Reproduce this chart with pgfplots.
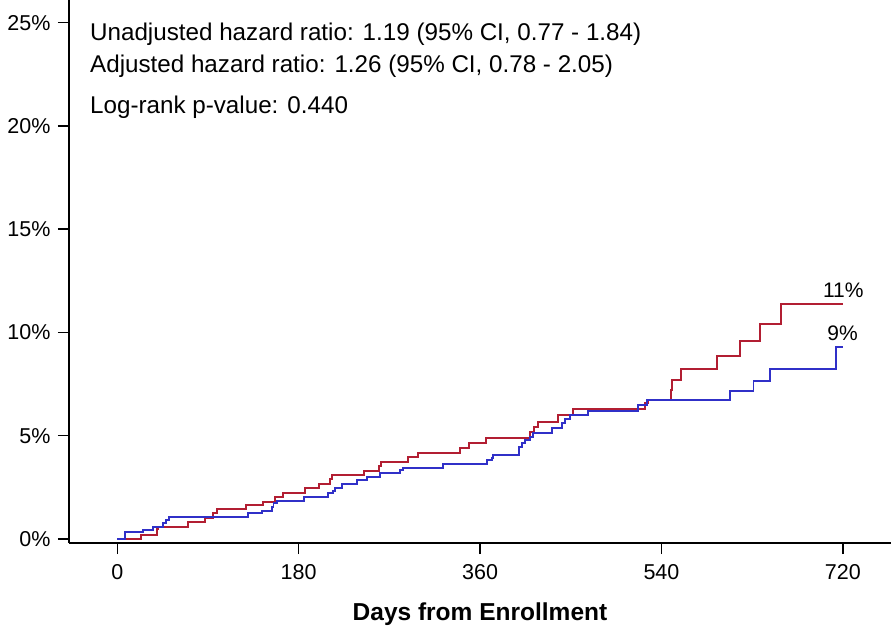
\documentclass[border=0pt]{standalone}
\usepackage{pgfplots}
\pgfplotsset{compat=1.18}
\usepackage{fontspec}
\setmainfont{Liberation Sans}
\definecolor{kmred}{RGB}{178,30,50}
\definecolor{kmblue}{RGB}{48,48,200}

\begin{document}
\begin{tikzpicture}
  \begin{axis}[
    name=ax,
    scale only axis,
    width=822bp, height=543bp,
    xmin=-47.9, xmax=767.8,
    ymin=-0.194, ymax=26.10,
    axis x line=bottom, axis y line=left,
    axis line style={-, line width=1.5bp},
    xtick={0,180,360,540,720},
    xticklabels={0,180,360,540,720},
    ytick={0,5,10,15,20,25},
    yticklabels={0\%,5\%,10\%,15\%,20\%,25\%},
    tick align=outside,
    major tick length=11bp,
    tick style={line width=1.5bp, black},
    ticklabel style={font=\fontsize{21.5bp}{25bp}\selectfont},
    xticklabel style={yshift=-7bp},
    yticklabel style={xshift=-4bp},
    clip=false,
  ]
    % red arm
    \addplot[const plot, kmred, line width=1.9bp] coordinates {
      (0,0) (23.2,0.18) (39.1,0.47) (40.4,0.60) (70.5,0.84) (87,1.03)
      (95.3,1.24) (98.6,1.44) (127.7,1.65) (144.9,1.81) (156.5,2.05)
      (164.8,2.24) (186.3,2.46) (200.5,2.66) (211.1,2.89) (212.8,3.10)
      (244.9,3.31) (260.1,3.54) (261.4,3.74) (288.8,3.99) (298.8,4.18)
      (340.1,4.39) (349.4,4.63) (366,4.91) (409.6,5.17) (413.9,5.44)
      (417.3,5.68) (437.7,6.00) (452.6,6.28) (523.8,6.57) (527,6.73)
      (549.3,7.22) (550.9,7.70) (559.2,8.22) (595,8.86) (618.1,9.59)
      (637.9,10.43) (658.5,11.37) (720,11.37)
    };
    % blue arm
    \addplot[const plot, kmblue, line width=1.9bp] coordinates {
      (0,0) (7.6,0.32) (25.2,0.44) (35.7,0.60) (45.1,0.79) (48.3,0.92)
      (51.6,1.08) (130,1.24) (143.3,1.37) (153.2,1.56) (155,1.73)
      (158.2,1.85) (185.3,2.05) (209.4,2.21) (214.4,2.32) (216.1,2.46)
      (222.7,2.66) (237.6,2.86) (247.5,3.02) (260.7,3.18) (280.6,3.34)
      (283.9,3.45) (323.6,3.62) (366.6,3.83) (371.6,3.91) (373.2,4.07)
      (399,4.44) (401.4,4.63) (404.7,4.79) (409.6,4.95) (412.9,5.12)
      (431.2,5.36) (441.1,5.60) (444.4,5.80) (449.3,6.00) (467.5,6.21)
      (517.1,6.49) (525.5,6.73) (608.1,7.18) (631.3,7.67) (647.8,8.23)
      (713.1,9.31) (720,9.31)
    };
    \node[anchor=base, font=\fontsize{21bp}{25bp}\selectfont] at (axis cs:720.5,11.70) {11\%};
    \node[anchor=base, font=\fontsize{21bp}{25bp}\selectfont] at (axis cs:719.7,9.60) {9\%};
    \node[anchor=base west, inner sep=0pt, font=\fontsize{24.2bp}{28bp}\selectfont] at (axis cs:-27.1,24.16) {Unadjusted hazard ratio: 1.19 (95\% CI, 0.77 - 1.84)};
    \node[anchor=base west, inner sep=0pt, font=\fontsize{24.2bp}{28bp}\selectfont] at (axis cs:-27.1,22.57) {Adjusted hazard ratio: 1.26 (95\% CI, 0.78 - 2.05)};
    \node[anchor=base west, inner sep=0pt, font=\fontsize{24.2bp}{28bp}\selectfont] at (axis cs:-27.1,20.58) {Log-rank p-value: 0.440};
    \node[anchor=base, inner sep=0pt, font=\fontsize{24.5bp}{28bp}\selectfont\bfseries] at (rel axis cs:0.5,-0.1436) {Days from Enrollment};
  \end{axis}
  \pgfresetboundingbox
  \path (ax.south west) ++(-69bp,-87bp) rectangle ++(891bp,630bp);
\end{tikzpicture}
\end{document}
